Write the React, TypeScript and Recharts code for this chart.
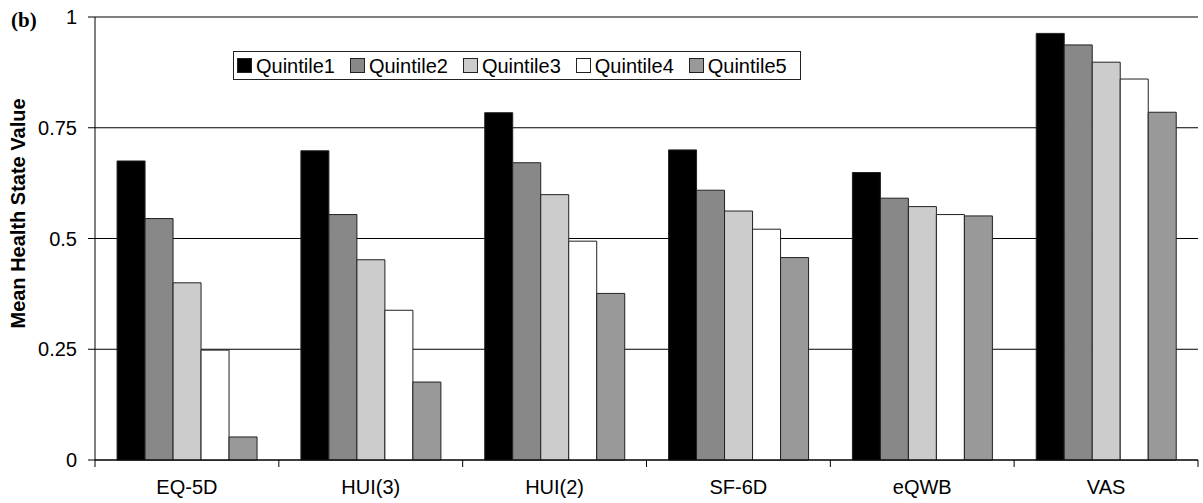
import React from 'react';
import {
  BarChart,
  Bar,
  XAxis,
  YAxis,
  CartesianGrid,
  Legend,
  Label,
} from 'recharts';

const CATEGORIES = ['EQ-5D', 'HUI(3)', 'HUI(2)', 'SF-6D', 'eQWB', 'VAS'];

const QUINTILE1 = [0.675, 0.698, 0.784, 0.7, 0.649, 0.963];
const QUINTILE2 = [0.545, 0.554, 0.671, 0.609, 0.591, 0.937];
const QUINTILE3 = [0.4, 0.452, 0.599, 0.562, 0.572, 0.898];
const QUINTILE4 = [0.248, 0.338, 0.494, 0.521, 0.554, 0.86];
const QUINTILE5 = [0.052, 0.176, 0.376, 0.457, 0.551, 0.785];

const Y_TICKS = [0, 0.25, 0.5, 0.75, 1];

const SERIES = [
  { key: 'q1', name: 'Quintile1', values: QUINTILE1, color: '#000000' },
  { key: 'q2', name: 'Quintile2', values: QUINTILE2, color: '#888888' },
  { key: 'q3', name: 'Quintile3', values: QUINTILE3, color: '#cccccc' },
  { key: 'q4', name: 'Quintile4', values: QUINTILE4, color: '#ffffff' },
  { key: 'q5', name: 'Quintile5', values: QUINTILE5, color: '#999999' },
];

const data = CATEGORIES.map((name, i) => {
  const row: any = { name };
  SERIES.forEach((s) => {
    row[s.key] = s.values[i];
  });
  return row;
});

const FONT = 'Arial, "Liberation Sans", sans-serif';
const INK = '#222222';

function LegendBox() {
  return (
    <div
      style={{
        display: 'flex',
        alignItems: 'center',
        boxSizing: 'border-box',
        height: 29,
        border: `1px solid ${INK}`,
        paddingLeft: 3,
        background: '#fff',
        fontFamily: FONT,
        fontSize: 20,
        color: '#000',
      }}
    >
      {SERIES.map((s) => (
        <div key={s.key} style={{ display: 'flex', alignItems: 'center', marginRight: 15 }}>
          <span
            style={{
              display: 'inline-block',
              boxSizing: 'border-box',
              width: 15,
              height: 15,
              border: `1px solid ${INK}`,
              background: s.color,
              marginRight: 4,
            }}
          />
          <span style={{ lineHeight: 1 }}>{s.name}</span>
        </div>
      ))}
    </div>
  );
}

// category label in the middle, tick marks on the category edges (Excel style)
function CategoryTick(props: any) {
  const { x, y, payload, index, visibleTicksCount, width } = props;
  const half =
    payload && typeof payload.offset === 'number' && payload.offset > 0
      ? payload.offset
      : width / visibleTicksCount / 2;
  const isLast = index === visibleTicksCount - 1;
  return (
    <g>
      <line x1={x - half} x2={x - half} y1={y - 7} y2={y} stroke="#000" strokeWidth={1} />
      {isLast && <line x1={x + half} x2={x + half} y1={y - 7} y2={y} stroke="#000" strokeWidth={1} />}
      <text x={x} y={y + 27} textAnchor="middle" fontFamily={FONT} fontSize={20} fill="#000">
        {payload.value}
      </text>
    </g>
  );
}

function YTitle(props: any) {
  const vb = props.viewBox || { x: 0, y: 0, width: 0, height: 0 };
  const x = vb.x + 25;
  const y = vb.y + vb.height / 2 - 25;
  return (
    <text
      x={x}
      y={y}
      transform={`rotate(-90, ${x}, ${y})`}
      textAnchor="middle"
      fontFamily={FONT}
      fontSize={20}
      fontWeight="bold"
      fill="#000"
    >
      Mean Health State Value
    </text>
  );
}

export default function App() {
  return (
    <div style={{ position: 'absolute', left: 0, top: 0, width: 1203, height: 503, background: '#fff' }}>
      <div
        style={{
          position: 'absolute',
          left: 11,
          top: 10,
          fontFamily: '"Times New Roman", "Liberation Serif", serif',
          fontWeight: 'bold',
          fontSize: 21,
          lineHeight: 1,
          zIndex: 2,
        }}
      >
        (b)
      </div>
      <BarChart
        width={1203}
        height={503}
        data={data}
        margin={{ top: 17, right: 5, left: 0, bottom: 0 }}
        barCategoryGap="12%"
        barGap={0}
      >
        <CartesianGrid horizontal vertical={false} stroke="#000" strokeWidth={1} />
        <XAxis
          dataKey="name"
          height={43}
          interval={0}
          tickSize={7}
          tickMargin={0}
          tickLine={false}
          axisLine={{ stroke: '#000' }}
          tick={<CategoryTick />}
        />
        <YAxis
          width={95}
          domain={[0, 1]}
          ticks={Y_TICKS}
          tickSize={7}
          tickMargin={11}
          axisLine={{ stroke: '#000' }}
          tickLine={{ stroke: '#000' }}
          tick={{ fontSize: 20, fontFamily: FONT, fill: '#000' }}
        >
          <Label content={YTitle} />
        </YAxis>
        <Legend
          layout="horizontal"
          verticalAlign="middle"
          content={() => <LegendBox />}
          wrapperStyle={{ left: 233, top: 51, width: 568, height: 29 }}
        />
        {SERIES.map((s) => (
          <Bar
            key={s.key}
            dataKey={s.key}
            name={s.name}
            fill={s.color}
            stroke={INK}
            strokeWidth={1}
            isAnimationActive={false}
          />
        ))}
      </BarChart>
    </div>
  );
}
